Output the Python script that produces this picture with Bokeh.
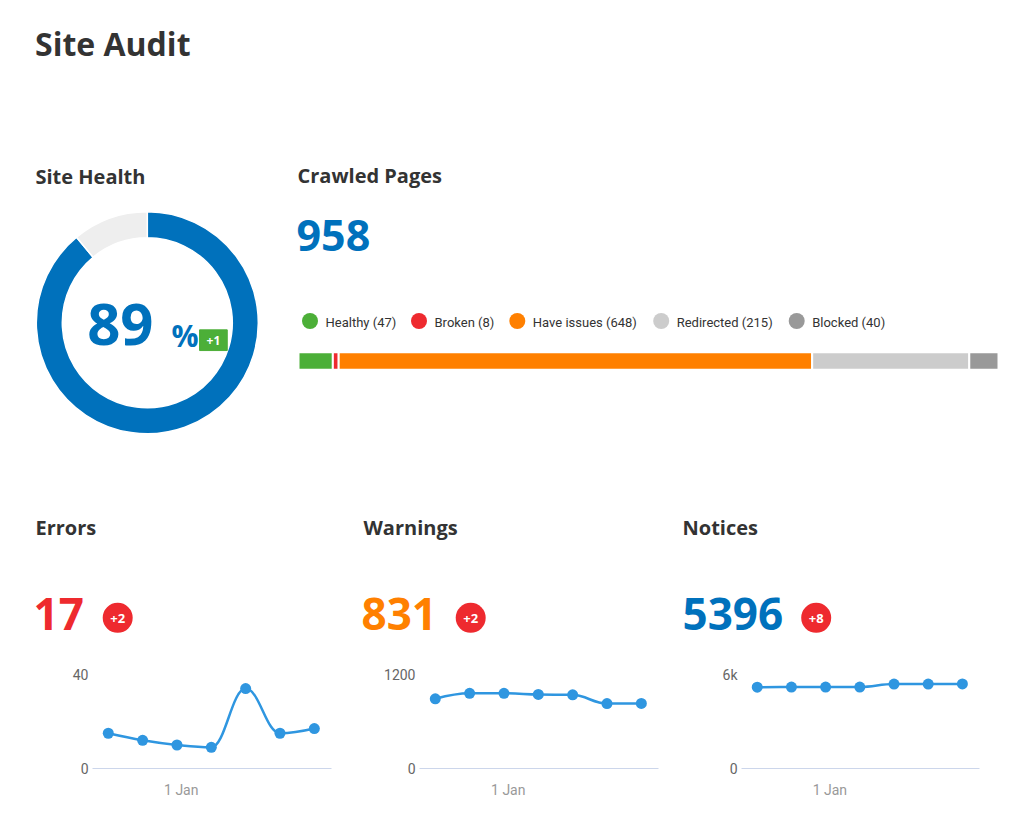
import math
import numpy as np
import pandas as pd
from bokeh.plotting import figure
from bokeh.layouts import column, row
from bokeh.models import Range1d, FixedTicker, ColumnDataSource
from bokeh.core.properties import value
from bokeh.embed import file_html
from bokeh.resources import INLINE

# ---------------- data ----------------
page_title = "Site Audit"
site_health = 89
site_health_change = 1

crawled_categories = ["Healthy", "Broken", "Have issues", "Redirected", "Blocked"]
crawled_counts = [47, 8, 648, 215, 40]
crawled_colors = ["#4caf38", "#ee2a2f", "#ff8000", "#cccccc", "#999999"]

dates = pd.to_datetime(["2018-12-29 21:00", "2018-12-30 21:00", "2018-12-31 21:00",
                        "2019-01-01 21:00", "2019-01-02 21:00", "2019-01-03 21:00",
                        "2019-01-04 21:00"])
x_tick_date = pd.Timestamp("2019-01-01")
x_tick_label = "1 Jan"

errors = [15, 12, 10, 9, 34, 15, 17]
warnings = [890, 960, 960, 945, 940, 829, 831]
notices = [5190, 5200, 5200, 5200, 5390, 5388, 5396]

panel_names = ["Errors", "Warnings", "Notices"]
panel_series = [errors, warnings, notices]
panel_colors = ["#ee2a2e", "#ff8000", "#0071bc"]
panel_ymax = [40, 1200, 6000]
panel_ymax_labels = ["40", "1200", "6k"]

# ---------------- styles ----------------
W = 1017
H_TOP = 660
H_BOT = 818 - H_TOP
BLUE = "#0071bc"
DARK = "#333333"
LINE_BLUE = "#2f96e0"
BADGE_RED = "#ee2a2f"
HEAD_FONT = "Open Sans"
BODY_FONT = "Roboto"


def Y(py):
    return H_TOP - py


top = figure(width=W, height=H_TOP, x_range=Range1d(0, W), y_range=Range1d(0, H_TOP),
             output_backend="svg", toolbar_location=None, min_border=0,
             x_axis_type=None, y_axis_type=None, outline_line_color=None)
top.xgrid.visible = False
top.ygrid.visible = False


def txt(x, y, s, size, color, font=HEAD_FONT, style="bold", align="left", baseline="middle"):
    top.text(x=[x], y=[Y(y)], text=[s], text_font=value(font), text_font_size=f"{size}px",
             text_font_style=style, text_color=color, text_align=align, text_baseline=baseline)


# title + section headers (y = vertical centre of capitals)
txt(34.5, 43.4, page_title, 32, DARK)
txt(35, 176.2, "Site Health", 20, DARK)
txt(297, 175.3, "Crawled Pages", 20, DARK)

# donut
frac = site_health / 100.0
donut = ColumnDataSource(dict(
    start=[math.pi / 2 - frac * 2 * math.pi, math.pi / 2],
    end=[math.pi / 2, math.pi / 2 + (1 - frac) * 2 * math.pi],
    color=[BLUE, "#eeeeee"],
))
top.annular_wedge(x=146.8, y=Y(322.3), inner_radius=85, outer_radius=111,
                  inner_radius_units="screen", outer_radius_units="screen",
                  start_angle="start", end_angle="end", color="color",
                  line_color="white", line_width=1.5, source=donut)
txt(153, 324, f"{site_health}", 58, BLUE, align="right")
txt(171, 334.5, "%", 30, BLUE)
top.rect(x=[212.9], y=[Y(339.7)], width=27.7, height=20.7, color="#4caf38")
txt(212.9, 340, f"+{site_health_change}", 12, "white", align="center")

# crawled pages
total_pages = sum(crawled_counts)
txt(296, 234.7, f"{total_pages}", 43, BLUE)

bar_left_px, bar_right_px = 298, 998
sc = total_pages / (bar_right_px - bar_left_px)
top.extra_x_ranges["pages"] = Range1d(-bar_left_px * sc, (W - bar_left_px) * sc)
ends = np.cumsum(crawled_counts)
starts = ends - np.array(crawled_counts)
bar_src = ColumnDataSource(dict(left=starts, right=ends, color=crawled_colors))
top.hbar(y=Y(360.5), left="left", right="right", height=17.6, color="color",
         line_color="white", line_width=2, x_range_name="pages", source=bar_src)

legend_x = [309.5, 418.5, 516.8, 660.7, 796.2]
top.scatter(x=legend_x, y=[Y(320.5)] * 5, size=16, color=crawled_colors, line_color=None)
top.text(x=[lx + 15.5 for lx in legend_x], y=[Y(321.5)] * 5,
         text=[f"{c} ({n})" for c, n in zip(crawled_categories, crawled_counts)],
         text_font=value(BODY_FONT), text_font_size="13px", text_color=DARK,
         text_baseline="middle", text_align="left")

# bottom panel headers
header_x = [35, 363, 682]
number_x = [33, 361, 682]
badge_x = [117.2, 470.2, 815.7]
for name, series, col, hx, nx, bx in zip(panel_names, panel_series, panel_colors,
                                         header_x, number_x, badge_x):
    txt(hx, 527.2, name, 20, DARK)
    txt(nx, 613.3, f"{series[-1]}", 44, col)
    top.scatter(x=[bx], y=[Y(617.3)], size=30, color=BADGE_RED, line_color=None)
    txt(bx, 618, f"+{series[-1] - series[-2]}", 13, "white", align="center")


# ---------------- sparklines ----------------
def spline_segments(xs, ys, smoothing=1.5):
    n = len(xs)
    denom = smoothing + 1
    lc = [(xs[i], ys[i]) for i in range(n)]
    rc = [(xs[i], ys[i]) for i in range(n)]
    for i in range(1, n - 1):
        px, py = xs[i], ys[i]
        lx, ly = xs[i - 1], ys[i - 1]
        nx, ny = xs[i + 1], ys[i + 1]
        lcx = (smoothing * px + lx) / denom
        lcy = (smoothing * py + ly) / denom
        rcx = (smoothing * px + nx) / denom
        rcy = (smoothing * py + ny) / denom
        corr = 0.0
        if rcx != lcx:
            corr = ((rcy - lcy) * (rcx - px)) / (rcx - lcx) + py - rcy
        lcy += corr
        rcy += corr
        if lcy > ly and lcy > py:
            lcy = max(ly, py); rcy = 2 * py - lcy
        elif lcy < ly and lcy < py:
            lcy = min(ly, py); rcy = 2 * py - lcy
        if rcy > ny and rcy > py:
            rcy = max(ny, py); lcy = 2 * py - rcy
        elif rcy < ny and rcy < py:
            rcy = min(ny, py); lcy = 2 * py - rcy
        lc[i] = (lcx, lcy)
        rc[i] = (rcx, rcy)
    d = dict(x0=[], y0=[], x1=[], y1=[], cx0=[], cy0=[], cx1=[], cy1=[])
    for i in range(n - 1):
        d["x0"].append(xs[i]); d["y0"].append(ys[i])
        d["x1"].append(xs[i + 1]); d["y1"].append(ys[i + 1])
        d["cx0"].append(rc[i][0]); d["cy0"].append(rc[i][1])
        d["cx1"].append(lc[i + 1][0]); d["cy1"].append(lc[i + 1][1])
    return d


DAY = 86400000.0
x_ms = [float(t.value // 10**6) for t in dates]
tick_ms = int(x_tick_date.value // 10**6)

spark_widths = [345, 323, 349]
spark_left = [92, 74, 73]
spark_right = [14, 10, 38]
spark_top_border = 674 - H_TOP

sparks = []
for series, ymax, ylab, w, bl, br in zip(panel_series, panel_ymax, panel_ymax_labels,
                                          spark_widths, spark_left, spark_right):
    p = figure(width=w, height=H_BOT, x_axis_type="datetime",
               x_range=Range1d(x_ms[0] - 0.46 * DAY, x_ms[-1] + 0.5 * DAY),
               y_range=Range1d(0, ymax), output_backend="svg", toolbar_location=None,
               min_border_left=bl, min_border_right=br, min_border_top=spark_top_border,
               min_border_bottom=50, outline_line_color=None)
    p.xgrid.visible = False
    p.ygrid.ticker = FixedTicker(ticks=[0, ymax])
    p.ygrid.grid_line_color = "#e6e6e6"
    p.yaxis.ticker = FixedTicker(ticks=[0, ymax])
    p.yaxis.major_label_overrides = {0: "0", ymax: ylab}
    p.yaxis.axis_line_color = None
    p.yaxis.major_tick_line_color = None
    p.yaxis.minor_tick_line_color = None
    p.yaxis.major_tick_out = 0
    p.yaxis.minor_tick_out = 0
    p.yaxis.major_label_text_font = BODY_FONT
    p.yaxis.major_label_text_font_size = "14px"
    p.yaxis.major_label_text_color = "#666666"
    p.yaxis.major_label_standoff = 4
    p.xaxis.ticker = FixedTicker(ticks=[tick_ms])
    p.xaxis.major_label_overrides = {tick_ms: x_tick_label}
    p.xaxis.axis_line_color = "#ccd6eb"
    p.xaxis.major_tick_line_color = None
    p.xaxis.minor_tick_line_color = None
    p.xaxis.major_tick_out = 0
    p.xaxis.minor_tick_out = 0
    p.xaxis.major_label_text_font = BODY_FONT
    p.xaxis.major_label_text_font_size = "14px"
    p.xaxis.major_label_text_color = "#999999"
    p.xaxis.major_label_standoff = 13

    seg = ColumnDataSource(spline_segments(x_ms, [float(v) for v in series]))
    p.bezier(x0="x0", y0="y0", x1="x1", y1="y1", cx0="cx0", cy0="cy0", cx1="cx1", cy1="cy1",
             line_color=LINE_BLUE, line_width=2.5, source=seg)
    p.scatter(x=x_ms, y=series, size=11, color=LINE_BLUE, line_color=None)
    sparks.append(p)

layout = column(top, row(*sparks, spacing=0), spacing=0)
open("out.html", "w").write(file_html(layout, INLINE))
